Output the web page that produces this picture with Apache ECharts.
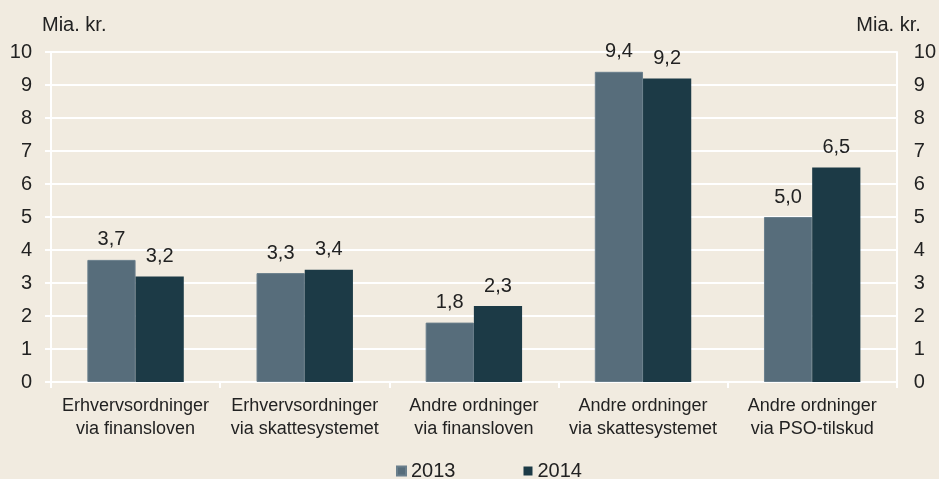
<!DOCTYPE html>
<html>
<head>
<meta charset="utf-8">
<script src="https://cdn.jsdelivr.net/npm/echarts@6/dist/echarts.min.js"></script>
<style>
html,body{margin:0;padding:0;background:#f1ebe0;}
#main{width:939px;height:479px;}
</style>
</head>
<body>
<div id="main"></div>
<script>
// kategorier og værdier (mia. kr.)
var categories = [
    'Erhvervsordninger\nvia finansloven',
    'Erhvervsordninger\nvia skattesystemet',
    'Andre ordninger\nvia finansloven',
    'Andre ordninger\nvia skattesystemet',
    'Andre ordninger\nvia PSO-tilskud'
];
var values2013 = [3.7, 3.3, 1.8, 9.4, 5.0];
var values2014 = [3.2, 3.4, 2.3, 9.2, 6.5];
var seriesNames = ['2013', '2014'];

var chart = echarts.init(document.getElementById('main'));

var font = 'Liberation Sans, Arial, sans-serif';
var txt = '#222';

function fmt(p){
    return p.value.toFixed(1).replace('.', ',');
}

function valueAxis(pos){
    return {
        type: 'value',
        position: pos,
        min: 0,
        max: 10,
        interval: 1,
        name: 'Mia. kr.',
        nameGap: 17,
        nameTextStyle: {
            color: txt, fontSize: 20, fontFamily: font,
            align: pos === 'left' ? 'left' : 'right',
            padding: pos === 'left' ? [0, 0, 0, -9] : [0, -24, 0, 0]
        },
        axisLine: {show: true, lineStyle: {color: '#fff', width: 2}},
        axisTick: {show: pos === 'left', length: 6, lineStyle: {color: '#fff', width: 2}},
        axisLabel: {color: txt, fontSize: 20, fontFamily: font, margin: pos === 'left' ? 19 : 17},
        splitLine: {show: pos === 'left', lineStyle: {color: '#fff', width: 2}}
    };
}

var option = {
    backgroundColor: '#f1ebe0',
    animation: false,
    grid: {left: 51, right: 42, top: 52, bottom: 97},
    legend: {
        data: seriesNames,
        top: 456,
        left: 391,
        itemWidth: 9,
        itemHeight: 9,
        itemGap: 68,
        icon: 'rect',
        textStyle: {color: txt, fontSize: 20, fontFamily: font}
    },
    xAxis: {
        type: 'category',
        data: categories,
        axisLine: {lineStyle: {color: '#fff', width: 2}},
        axisTick: {show: true, length: 6, lineStyle: {color: '#fff', width: 2}},
        axisLabel: {interval: 0, hideOverlap: false, color: txt, fontSize: 18, fontFamily: font, margin: 13, lineHeight: 23}
    },
    yAxis: [valueAxis('left'), valueAxis('right')],
    series: [
        {
            name: seriesNames[0],
            type: 'bar',
            data: values2013,
            barWidth: '28.5%',
            barGap: '0%',
            itemStyle: {color: '#576d7b', borderColor: '#6a7f8c', borderWidth: 1},
            label: {show: true, position: 'top', distance: 10, color: txt, fontSize: 20, fontFamily: font, formatter: fmt}
        },
        {
            name: seriesNames[1],
            type: 'bar',
            data: values2014,
            barWidth: '28.5%',
            barGap: '0%',
            itemStyle: {color: '#1c3a46'},
            label: {show: true, position: 'top', distance: 10, color: txt, fontSize: 20, fontFamily: font, formatter: fmt}
        }
    ]
};

chart.setOption(option);
</script>
</body>
</html>
